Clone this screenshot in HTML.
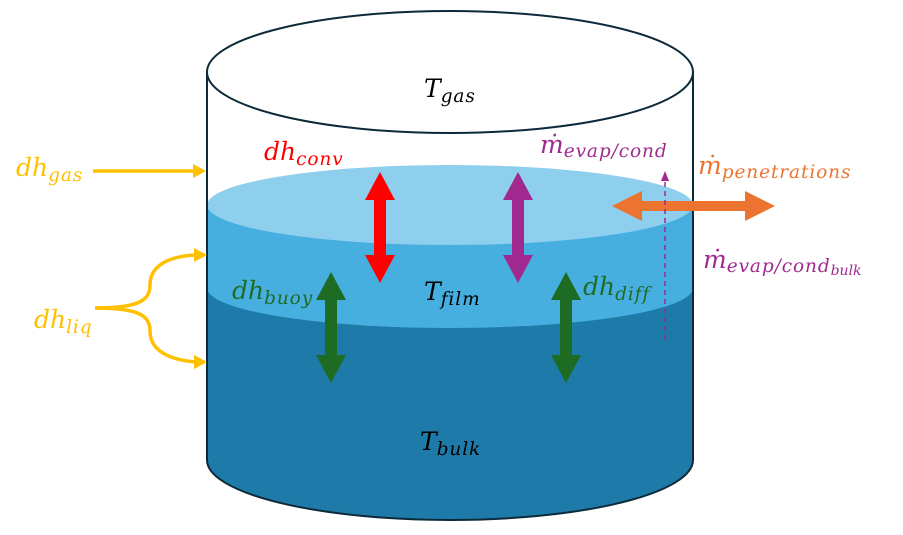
<!DOCTYPE html>
<html><head><meta charset="utf-8"><style>
html,body{margin:0;padding:0;background:#fff;}
svg{display:block}
text{font-family:"DejaVu Serif","Liberation Serif",serif;font-style:italic;}
tspan.s{letter-spacing:0.9px}
</style></head><body>
<svg width="903" height="535" viewBox="0 0 903 535" xmlns="http://www.w3.org/2000/svg">
<path d="M207,288 L207,460 A243,60 0 0 0 693,460 L693,288 Z" fill="#1e7aa8"/>
<path d="M207,205 L207,288 A243,40 0 0 0 693,288 L693,205 Z" fill="#47afe0"/>
<ellipse cx="450" cy="205" rx="243" ry="40" fill="#8ecfee"/>
<path d="M207,72 L207,460 A243,60 0 0 0 693,460 L693,72" fill="none" stroke="#0d2a3a" stroke-width="2"/>
<ellipse cx="450" cy="72" rx="243" ry="61" fill="#fff" stroke="#0d2a3a" stroke-width="2"/>

<polygon fill="#ff0000" points="380,172 395,200 386,200 386,255 395,255 380,283 365,255 374,255 374,200 365,200"/>
<polygon fill="#a0298f" points="518,172 533,200 524,200 524,255 533,255 518,283 503,255 512,255 512,200 503,200"/>
<polygon fill="#1e6b24" points="331,272 346,300 337,300 337,355 346,355 331,383 316,355 325,355 325,300 316,300"/>
<polygon fill="#1e6b24" points="566,272 581,300 572,300 572,355 581,355 566,383 551,355 560,355 560,300 551,300"/>
<polygon fill="#ed7430" points="612,206 642,191 642,201 745,201 745,191 775,206 745,221 745,211 642,211 642,221"/>
<line x1="665" y1="340" x2="665" y2="180" stroke="#a0298f" stroke-width="1.5" stroke-dasharray="5,4"/>
<polygon fill="#a0298f" points="665,171 661,181 669,181"/>

<line x1="93" y1="171" x2="195" y2="171" stroke="#ffc000" stroke-width="3.5"/>
<polygon fill="#ffc000" points="206,171 193,164 193,178"/>
<path d="M95,308 C140,308 150,300 150,285 C150,265 170,256 196,255" fill="none" stroke="#ffc000" stroke-width="3.5"/>
<path d="M95,308 C140,308 150,316 150,331 C150,351 170,360 196,362" fill="none" stroke="#ffc000" stroke-width="3.5"/>
<polygon fill="#ffc000" points="207,255 194,248 194,262"/>
<polygon fill="#ffc000" points="207,362 194,355 194,369"/>

<text x="424" y="97" font-size="25" fill="#000">T<tspan class="s" font-size="18.5" dy="5">gas</tspan></text>
<text x="424" y="300" font-size="25" fill="#000">T<tspan class="s" font-size="18.5" dy="5">film</tspan></text>
<text x="420" y="450" font-size="25" fill="#000">T<tspan class="s" font-size="18.5" dy="5">bulk</tspan></text>
<text x="264" y="160" font-size="25" fill="#ff0000">dh<tspan class="s" font-size="18.5" dy="5">conv</tspan></text>
<text x="16" y="176" font-size="25" fill="#ffc000">dh<tspan class="s" font-size="18.5" dy="5">gas</tspan></text>
<text x="34" y="328" font-size="25" fill="#ffc000">dh<tspan class="s" font-size="18.5" dy="5">liq</tspan></text>
<text x="232" y="299" font-size="25" fill="#1e6b24">dh<tspan class="s" font-size="18.5" dy="5">buoy</tspan></text>
<text x="583" y="295" font-size="25" fill="#1e6b24">dh<tspan class="s" font-size="18.5" dy="5">diff</tspan></text>
<text x="540" y="153" font-size="25" fill="#a0298f">ṁ<tspan class="s" font-size="18.5" dy="4">evap/cond</tspan></text>
<text x="698" y="174" font-size="25" fill="#ed7430">ṁ<tspan class="s" font-size="18.5" dy="4">penetrations</tspan></text>
<text x="703" y="268" font-size="25" fill="#a0298f">ṁ<tspan class="s" font-size="18.5" dy="4">evap/cond</tspan><tspan font-size="14" dy="3">bulk</tspan></text>
</svg>
</body></html>
